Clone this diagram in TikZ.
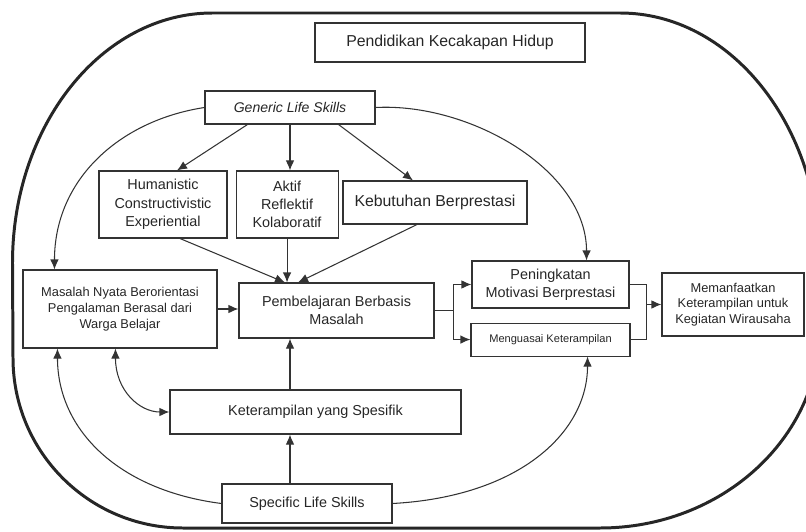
\documentclass[tikz,border=0pt]{standalone}
\usepackage{fontspec}
\setmainfont{Liberation Sans}
\usetikzlibrary{arrows.meta, positioning, calc}

\begin{document}
\begin{tikzpicture}
  \tikzset{
    >={Latex[length=2mm,width=1.7mm]},
    kotak/.style={
      draw=black!80, line width=0.6pt, align=center, inner sep=1pt,
      text=black!85, font=\fontsize{8.2}{10.4}\selectfont,
    },
    kotak kecil/.style={kotak, font=\fontsize{7.3}{9}\selectfont},
    panah/.style={draw=black!80, line width=0.6pt, ->},
    garis/.style={draw=black!80, line width=0.6pt},
    bingkai/.style={draw=black!85, line width=1.7pt},
  }
  \useasboundingbox (0,0) rectangle (16.12,10.62);
  \draw[bingkai] (0.25,5.36) arc[start angle=180, end angle=90, x radius=4cm, y radius=5cm]
    -- (12.4,10.36) arc[start angle=90, end angle=0, x radius=4cm, y radius=5cm]
    -- (16.4,4.06) arc[start angle=0, end angle=-90, x radius=4.4cm, y radius=4cm]
    -- (3.66,0.06) arc[start angle=-90, end angle=-180, x radius=3.4cm, y radius=3.4cm]
    -- cycle;

  \node[kotak, font=\fontsize{9}{11}\selectfont, minimum width=5.4cm, minimum height=0.78cm] (judul) at (9.0,9.77) {Pendidikan Kecakapan Hidup};
  \node[kotak, font=\fontsize{8}{10}\selectfont\itshape, minimum width=3.4cm, minimum height=0.66cm] (generic) at (5.8,8.47) {Generic Life Skills};
  \node[kotak, minimum width=2.56cm, minimum height=1.34cm] (humanis) at (3.26,6.53) {Humanistic\\Constructivistic\\Experiential};
  \node[kotak, minimum width=2.04cm, minimum height=1.34cm, right=0.16cm of humanis] (aktif) {Aktif\\Reflektif\\Kolaboratif};
  \node[kotak, font=\fontsize{9}{11}\selectfont, minimum width=3.68cm, minimum height=0.86cm] (kebutuhan) at (8.7,6.57) {Kebutuhan Berprestasi};
  \node[kotak kecil, minimum width=3.88cm, minimum height=1.56cm] (masalah) at (2.4,4.44) {Masalah Nyata Berorientasi\\Pengalaman Berasal dari\\Warga Belajar};
  \node[kotak, minimum width=3.9cm, minimum height=1.1cm] (pbm) at (6.73,4.41) {Pembelajaran Berbasis\\Masalah};
  \node[kotak, minimum width=3.14cm, minimum height=0.94cm] (motivasi) at (11.01,4.93) {Peningkatan\\Motivasi Berprestasi};
  \node[kotak, font=\fontsize{6.3}{8}\selectfont, minimum width=3.18cm, minimum height=0.66cm, below=0.28cm of motivasi] (kuasai) {Menguasai Keterampilan};
  \node[kotak kecil, minimum width=2.84cm, minimum height=1.26cm] (manfaat) at (14.66,4.53) {Memanfaatkan\\Keterampilan untuk\\Kegiatan Wirausaha};
  \node[kotak, minimum width=5.82cm, minimum height=0.88cm] (spesifik) at (6.31,2.38) {Keterampilan yang Spesifik};
  \node[kotak, minimum width=3.4cm, minimum height=0.78cm] (specific) at (6.14,0.55) {Specific Life Skills};

  \draw[panah] ([xshift=0.86cm]generic.south west) -- ([xshift=0.28cm]humanis.north);
  \draw[panah] (generic.south) -- (generic.south |- aktif.north);
  \draw[panah] ([xshift=-0.74cm]generic.south east) -- ([xshift=-0.44cm]kebutuhan.north);
  \draw[panah] ([xshift=0.34cm]humanis.south) -- ([xshift=-1.03cm]pbm.north);
  \draw[panah] (aktif.south) -- (aktif.south |- pbm.north);
  \draw[panah] ([xshift=-0.36cm]kebutuhan.south) -- ([xshift=-0.77cm]pbm.north);
  \draw[panah] (masalah.east) -- (masalah.east -| pbm.west);
  \draw[panah] (spesifik.north -| generic.south) -- (pbm.south -| generic.south);
  \draw[panah] (specific.north -| generic.south) -- (spesifik.south -| generic.south);

  \coordinate (cabang) at ($(pbm.east)+(0.38,0)$);
  \draw[garis] (pbm.east) -- (cabang);
  \draw[panah] (cabang) |- (motivasi.west);
  \draw[panah] (cabang) |- (kuasai.west);
  \coordinate (gabung) at ($(motivasi.east)+(0.34,0)$);
  \draw[garis] (motivasi.east) -- (gabung) |- (kuasai.east);
  \draw[panah] (gabung |- manfaat.west) -- (manfaat.west);

  \draw[panah] (generic.west) .. controls +(-1.7,-0.26) and +(0,1.8) .. ([xshift=0.64cm]masalah.north west);
  \draw[panah] (generic.east) .. controls +(1.9,0.1) and +(0,1.8) .. ([xshift=-0.86cm]motivasi.north east);
  \draw[panah] (specific.west) .. controls +(-2.04,0.26) and +(0,-1.64) .. ([xshift=0.7cm]masalah.south west);
  \draw[panah, <->] ([xshift=1.86cm]masalah.south west) .. controls +(0,-0.84) and +(-0.6,0) .. (spesifik.west);
  \draw[panah] (specific.east) .. controls +(2.56,0.14) and +(0,-1.5) .. ([xshift=-0.86cm]kuasai.south east);
\end{tikzpicture}
\end{document}
